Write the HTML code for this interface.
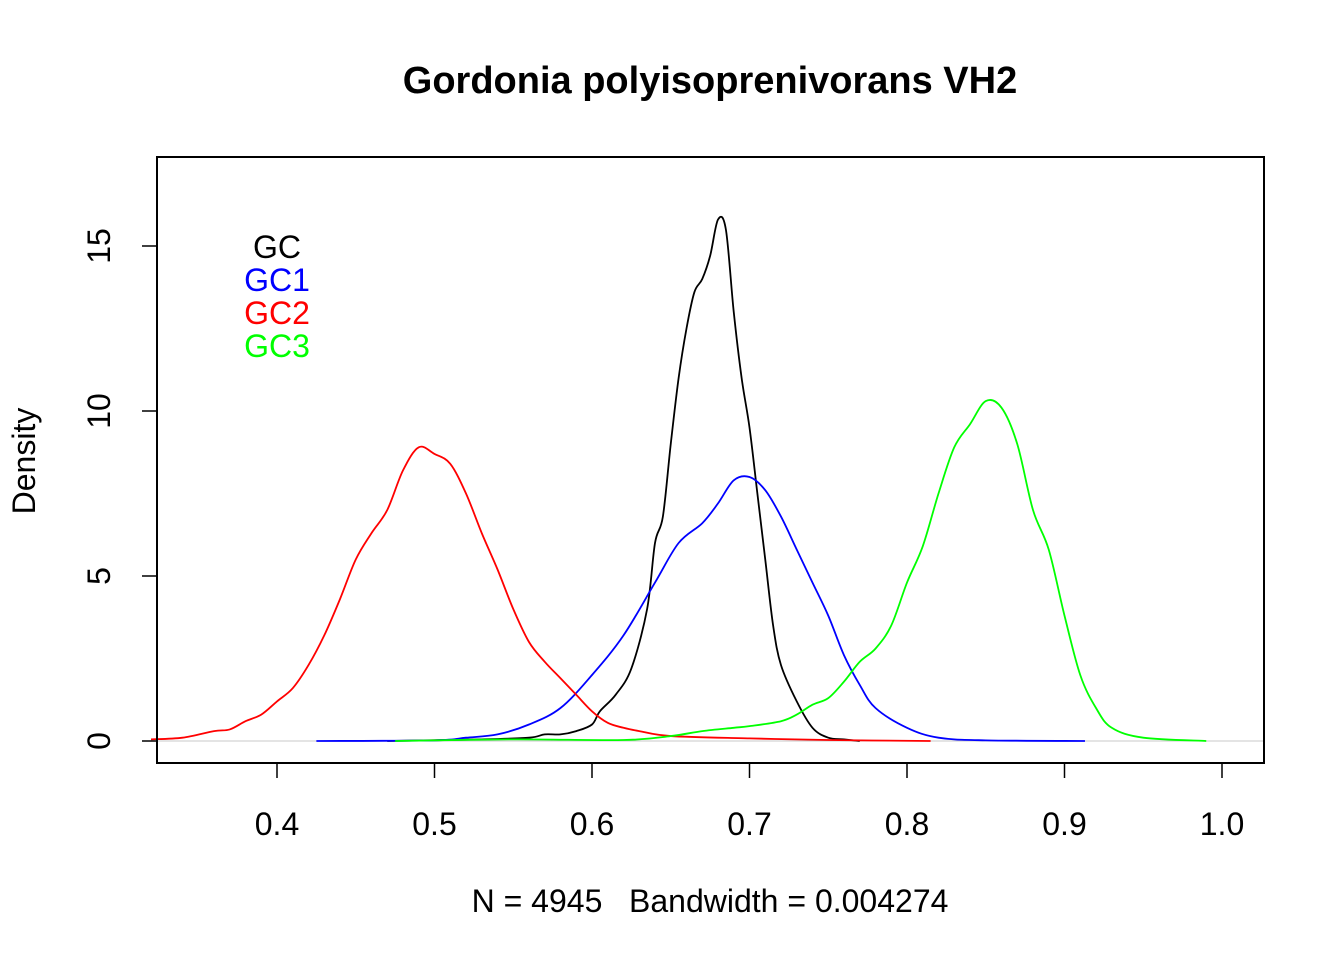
<!DOCTYPE html>
<html><head><meta charset="utf-8"><style>body{margin:0;background:#fff}svg{display:block;font-family:"Liberation Sans",Arial,sans-serif}</style></head>
<body>
<svg id="chart" width="1344" height="960">
<text x="710" y="93" text-anchor="middle" style="font-size:38px" font-weight="bold">Gordonia polyisoprenivorans VH2</text>
<text x="710" y="912" text-anchor="middle" style="font-size:32px;white-space:pre" xml:space="preserve">N = 4945   Bandwidth = 0.004274</text>
<text transform="translate(35,461) rotate(-90)" text-anchor="middle" style="font-size:32px">Density</text>
<line x1="157" y1="741" x2="1264" y2="741" stroke="#c8c8c8" stroke-width="1"/>
<g id="curves"></g>
<rect x="157" y="157" width="1107" height="606" fill="none" stroke="#000" stroke-width="2"/>
<g id="xaxis"></g><g id="yaxis"></g>
<g style="font-size:32px" text-anchor="middle">
<text x="277" y="258" fill="#000">GC</text>
<text x="277" y="291" fill="#0000ff">GC1</text>
<text x="277" y="324" fill="#ff0000">GC2</text>
<text x="277" y="357" fill="#00ff00">GC3</text>
</g>
</svg>
<script>
const xTicks=[0.4,0.5,0.6,0.7,0.8,0.9,1.0];
const yTicks=[0,5,10,15];
const gcX=[0.47,0.53,0.56,0.57,0.58,0.59,0.60,0.605,0.615,0.625,0.635,0.64,0.645,0.65,0.655,0.66,0.665,0.67,0.675,0.68,0.685,0.69,0.695,0.70,0.705,0.71,0.715,0.72,0.73,0.74,0.75,0.76,0.77];
const gcY=[0,0.05,0.1,0.2,0.2,0.3,0.5,0.9,1.4,2.2,4,6,6.8,9,11,12.5,13.6,14,14.7,15.8,15.5,13,11,9.5,7.5,5.5,3.5,2.3,1.2,0.4,0.1,0.05,0];
const gc1X=[0.425,0.5,0.52,0.54,0.56,0.58,0.60,0.62,0.64,0.655,0.67,0.68,0.69,0.70,0.71,0.72,0.73,0.74,0.75,0.76,0.77,0.78,0.80,0.82,0.85,0.913];
const gc1Y=[0,0.02,0.1,0.2,0.5,1.0,2.0,3.2,4.8,6.0,6.6,7.2,7.9,8.0,7.6,6.8,5.8,4.8,3.8,2.6,1.7,1.0,0.4,0.1,0.02,0];
const gc2X=[0.32,0.34,0.36,0.37,0.38,0.39,0.40,0.41,0.42,0.43,0.44,0.45,0.46,0.47,0.48,0.49,0.50,0.51,0.52,0.53,0.54,0.55,0.56,0.57,0.58,0.59,0.60,0.61,0.62,0.63,0.65,0.70,0.75,0.815];
const gc2Y=[0.05,0.1,0.3,0.35,0.6,0.8,1.2,1.6,2.3,3.2,4.3,5.5,6.3,7.0,8.2,8.9,8.7,8.4,7.5,6.3,5.2,4.0,3.0,2.4,1.9,1.4,0.9,0.55,0.4,0.3,0.15,0.08,0.03,0];
const gc3X=[0.475,0.55,0.62,0.65,0.67,0.69,0.70,0.72,0.73,0.74,0.75,0.76,0.77,0.78,0.79,0.80,0.81,0.82,0.83,0.84,0.85,0.86,0.87,0.88,0.89,0.90,0.91,0.92,0.93,0.95,0.99];
const gc3Y=[0,0.05,0.03,0.15,0.3,0.4,0.45,0.6,0.8,1.1,1.3,1.8,2.4,2.8,3.5,4.8,5.9,7.5,8.9,9.6,10.3,10.1,9.0,7.0,5.8,3.8,2.0,1.0,0.4,0.1,0];
const NS="http://www.w3.org/2000/svg";
const sx=v=>277+(v-0.4)*1575, sy=v=>741-33*v;
function path(xs,ys){let p=xs.map((x,i)=>[sx(x),sy(ys[i])]);let d="M"+p[0];for(let i=0;i<p.length-1;i++){const a=p[i-1]||p[i],b=p[i],c=p[i+1],e=p[i+2]||c;d+=` C${b[0]+(c[0]-a[0])/6},${b[1]+(c[1]-a[1])/6} ${c[0]-(e[0]-b[0])/6},${c[1]-(e[1]-b[1])/6} ${c[0]},${c[1]}`;}return d;}
const g=document.getElementById('curves');
[[gcX,gcY,'#000','curve-gc'],[gc1X,gc1Y,'#0000ff','curve-gc1'],[gc2X,gc2Y,'#ff0000','curve-gc2'],[gc3X,gc3Y,'#00ff00','curve-gc3']].forEach(s=>{
const p=document.createElementNS(NS,'path');p.setAttribute('d',path(s[0],s[1]));p.setAttribute('fill','none');p.setAttribute('stroke',s[2]);p.setAttribute('stroke-width','1.8');


g.appendChild(p);});
const xa=document.getElementById('xaxis');
xTicks.forEach(t=>{const x=sx(t);
const l=document.createElementNS(NS,'line');l.setAttribute('x1',x);l.setAttribute('x2',x);l.setAttribute('y1',763);l.setAttribute('y2',778);l.setAttribute('stroke','#000');l.setAttribute('stroke-width','1.5');


xa.appendChild(l);
const tx=document.createElementNS(NS,'text');tx.setAttribute('x',x);tx.setAttribute('y',835);tx.setAttribute('text-anchor','middle');tx.setAttribute('style','font-size:32px');tx.textContent=t.toFixed(1);


xa.appendChild(tx);});
const ya=document.getElementById('yaxis');
yTicks.forEach(t=>{const y=sy(t);
const l=document.createElementNS(NS,'line');l.setAttribute('x1',142);l.setAttribute('x2',157);l.setAttribute('y1',y);l.setAttribute('y2',y);l.setAttribute('stroke','#000');l.setAttribute('stroke-width','1.5');


ya.appendChild(l);
const tx=document.createElementNS(NS,'text');tx.setAttribute('transform',`translate(110,${y}) rotate(-90)`);tx.setAttribute('text-anchor','middle');tx.setAttribute('style','font-size:32px');tx.textContent=t;


ya.appendChild(tx);});
</script>
</body></html>
